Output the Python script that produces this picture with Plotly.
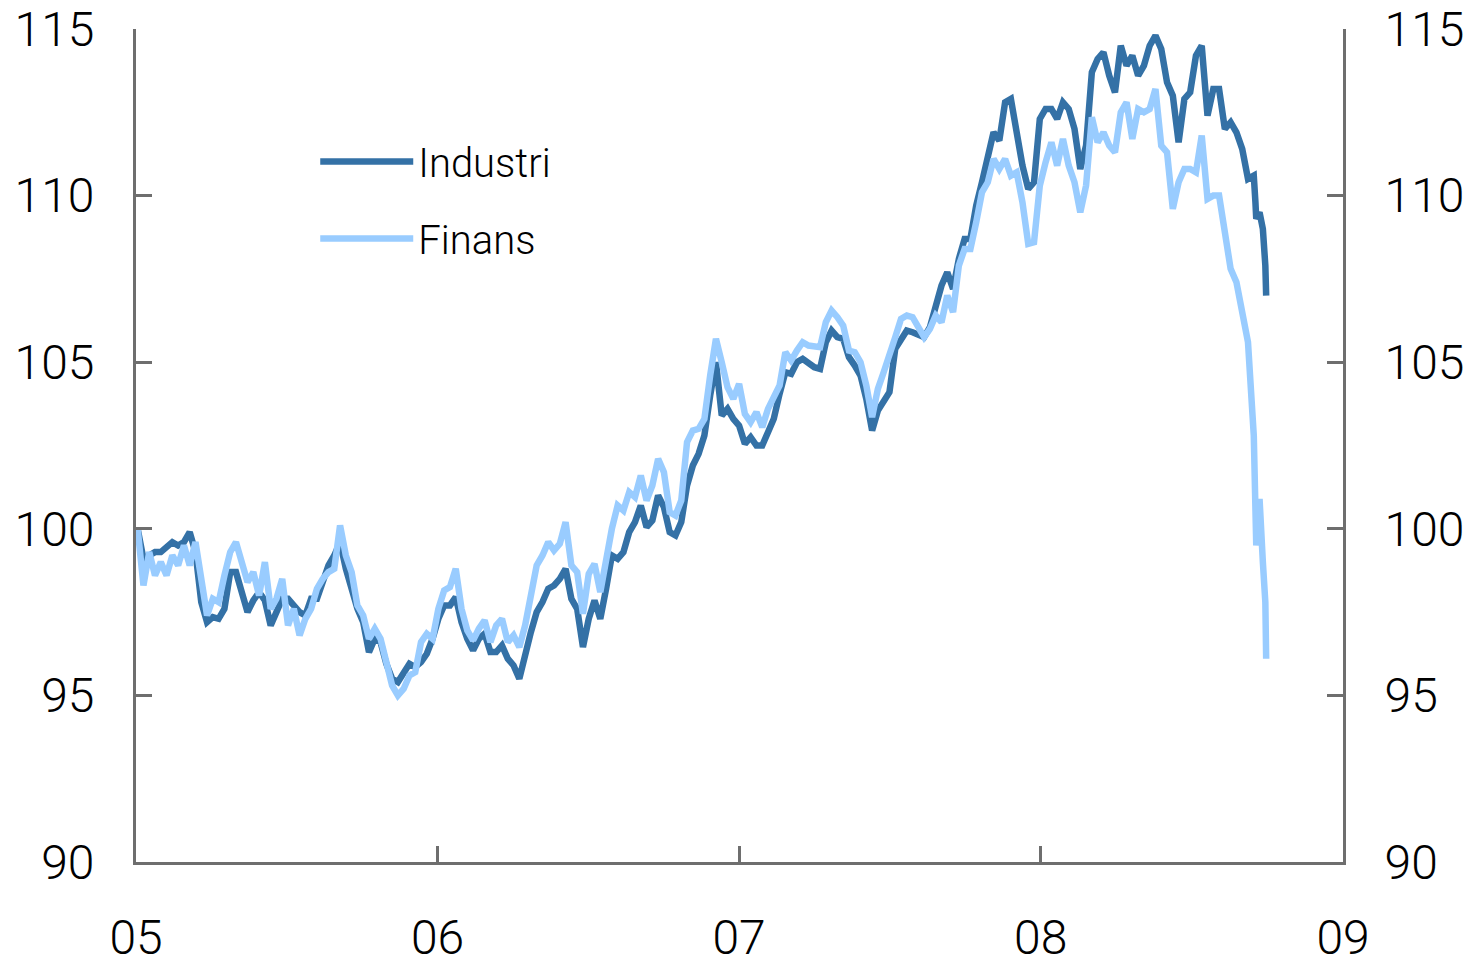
import pandas as pd
import plotly.graph_objects as go

# weekly observations (Mondays) followed by the last trading days of September 2008
weekly_dates = list(pd.date_range("2005-01-03", "2008-09-15", freq="7D"))
last_days = ["2008-09-17", "2008-09-18", "2008-09-22", "2008-09-24",
             "2008-09-26", "2008-09-29", "2008-09-30"]
dates = weekly_dates + list(pd.to_datetime(last_days))

industri = [
    100.0, 99.1, 99.2, 99.3, 99.3, 99.45, 99.6, 99.5, 99.6, 99.9,
    99.3, 97.8, 97.2, 97.35, 97.3, 97.6, 98.7, 98.7, 98.0, 97.5,
    97.85, 98.1, 97.85, 97.1, 97.5, 97.9, 97.9, 97.7, 97.5, 97.4,
    97.9, 97.9, 98.4, 98.9, 99.2, 99.6, 98.8, 98.1, 97.6, 97.2,
    96.3, 96.7, 96.6, 95.95, 95.5, 95.4, 95.7, 95.95, 95.85, 96.0,
    96.25, 96.7, 97.3, 97.7, 97.7, 97.95, 97.2, 96.7, 96.35, 96.7,
    96.85, 96.3, 96.3, 96.5, 96.1, 95.9, 95.5, 96.3, 96.9, 97.5,
    97.8, 98.2, 98.3, 98.5, 98.8, 97.9, 97.6, 96.45, 97.3, 97.85,
    97.3, 98.2, 99.2, 99.1, 99.3, 99.9, 100.2, 100.7, 100.05, 100.25,
    101.0, 100.65, 99.9, 99.8, 100.2, 101.3, 101.9, 102.25, 102.8, 104.0,
    105.0, 103.4, 103.6, 103.3, 103.1, 102.55, 102.75, 102.5, 102.5, 102.9,
    103.3, 104.05, 104.7, 104.65, 105.0, 105.1, 104.95, 104.85, 104.8, 105.6,
    105.95, 105.75, 105.7, 105.15, 104.9, 104.6, 103.9, 102.95, 103.55, 103.85,
    104.1, 105.4, 105.7, 105.95, 105.9, 105.8, 105.75, 106.05, 106.7, 107.3,
    107.7, 107.2, 108.1, 108.7, 108.7, 109.7, 110.4, 111.2, 111.9, 111.65,
    112.8, 112.9, 111.9, 110.9, 110.2, 110.4, 112.3, 112.6, 112.6, 112.3,
    112.8, 112.6, 112.0, 110.8, 111.5, 113.7, 114.1, 114.3, 113.6, 113.1,
    114.5, 113.9, 114.2, 113.6, 113.9, 114.5, 114.8, 114.4, 113.4, 113.0,
    111.6, 112.9, 113.1, 114.2, 114.5, 112.4, 113.2, 113.2, 112.0, 112.2,
    111.9, 111.4, 110.5, 110.6,
    109.8, 109.3, 109.5, 109.2, 109.0, 107.9, 107.0,
]

finans = [
    100.0, 98.3, 99.3, 98.6, 99.0, 98.6, 99.2, 98.9, 99.5, 98.9,
    99.6, 98.6, 97.4, 97.9, 97.8, 98.6, 99.3, 99.6, 98.9, 98.4,
    98.7, 98.0, 99.0, 97.6, 97.9, 98.5, 97.1, 97.6, 96.8, 97.3,
    97.6, 98.2, 98.5, 98.7, 98.8, 100.1, 99.2, 98.7, 97.7, 97.4,
    96.7, 97.0, 96.7, 96.0, 95.3, 95.0, 95.2, 95.6, 95.7, 96.6,
    96.85, 96.7, 97.6, 98.15, 98.25, 98.8, 97.6, 96.95, 96.65, 97.0,
    97.25, 96.6, 97.1, 97.3, 96.6, 96.8, 96.45, 97.1, 98.0, 98.9,
    99.2, 99.6, 99.35, 99.55, 100.2, 98.9, 98.7, 97.45, 98.65, 98.95,
    98.1, 99.1, 100.0, 100.7, 100.55, 101.1, 100.95, 101.6, 100.85, 101.3,
    102.1, 101.7, 100.5, 100.4, 100.85, 102.6, 102.95, 103.0, 103.3, 104.6,
    105.7, 105.0, 104.25, 103.9, 104.35, 103.45, 103.2, 103.5, 103.05, 103.6,
    104.0, 104.3, 105.3, 105.05, 105.35, 105.6, 105.5, 105.45, 105.45, 106.2,
    106.55, 106.35, 106.1, 105.35, 105.3, 105.0, 104.3, 103.35, 104.2, 104.7,
    105.3, 105.75, 106.3, 106.4, 106.35, 106.05, 105.75, 106.0, 106.4, 106.2,
    107.0, 106.5, 107.9, 108.4, 108.4, 109.2, 110.1, 110.4, 111.1, 110.8,
    111.1, 110.6, 110.7, 109.8, 108.55, 108.6, 110.3, 111.0, 111.6, 110.9,
    111.7, 110.9, 110.4, 109.5, 110.3, 112.35, 111.6, 111.9, 111.5, 111.3,
    112.5, 112.8, 111.7, 112.6, 112.5, 112.6, 113.2, 111.5, 111.3, 109.6,
    110.4, 110.8, 110.8, 110.7, 111.8, 109.9, 110.0, 110.0, 108.8, 107.8,
    107.4, 106.5, 105.6, 102.8,
    100.4, 99.5, 100.9, 99.6, 99.0, 97.8, 96.1,
]

year_ticks = ["2005-01-01", "2006-01-01", "2007-01-01", "2008-01-01", "2009-01-01"]
year_labels = ["05", "06", "07", "08", "09"]
y_ticks = [90, 95, 100, 105, 110, 115]

AXIS = "#6E6E6E"
FONT = "Roboto, Liberation Sans, Arial, sans-serif"

fig = go.Figure()
fig.add_trace(go.Scatter(x=dates, y=industri, name="Industri", mode="lines",
                         line=dict(color="#3471A6", width=6.5), legendgroup="a"))
fig.add_trace(go.Scatter(x=dates, y=finans, name="Finans", mode="lines",
                         line=dict(color="#99CCFF", width=6.5), legendgroup="b"))
# invisible copy so that the right-hand axis is drawn
fig.add_trace(go.Scatter(x=dates, y=industri, yaxis="y2", mode="lines",
                         line=dict(color="rgba(0,0,0,0)", width=0),
                         showlegend=False, hoverinfo="skip"))

axis_common = dict(showline=True, linecolor=AXIS, linewidth=3, ticks="inside",
                   ticklen=16, tickwidth=3, tickcolor=AXIS, showgrid=False,
                   zeroline=False, automargin=False, ticklabeloverflow="allow",
                   tickfont=dict(size=48, color="#000000", family=FONT, weight=300))

fig.update_layout(
    width=1475, height=959,
    margin=dict(l=128, r=140, t=21, b=105),
    paper_bgcolor="white", plot_bgcolor="white",
    font=dict(family=FONT, color="#000000"),
    showlegend=True,
    legend=dict(x=0.1485, y=0.880, xanchor="left", yanchor="top",
                bgcolor="rgba(0,0,0,0)", itemwidth=93, tracegroupgap=22,
                font=dict(size=40, family=FONT, weight=300, color="#000000")),
    xaxis=dict(type="date", range=["2005-01-01", "2009-01-01"],
               tickvals=year_ticks, ticktext=year_labels,
               ticklabelstandoff=31, **axis_common),
    yaxis=dict(range=[90, 115], tickvals=y_ticks, ticklabelstandoff=29, **axis_common),
    yaxis2=dict(range=[90, 115], tickvals=y_ticks, overlaying="y", side="right",
                ticklabelstandoff=29, **axis_common),
)

fig.write_html("out.html")
